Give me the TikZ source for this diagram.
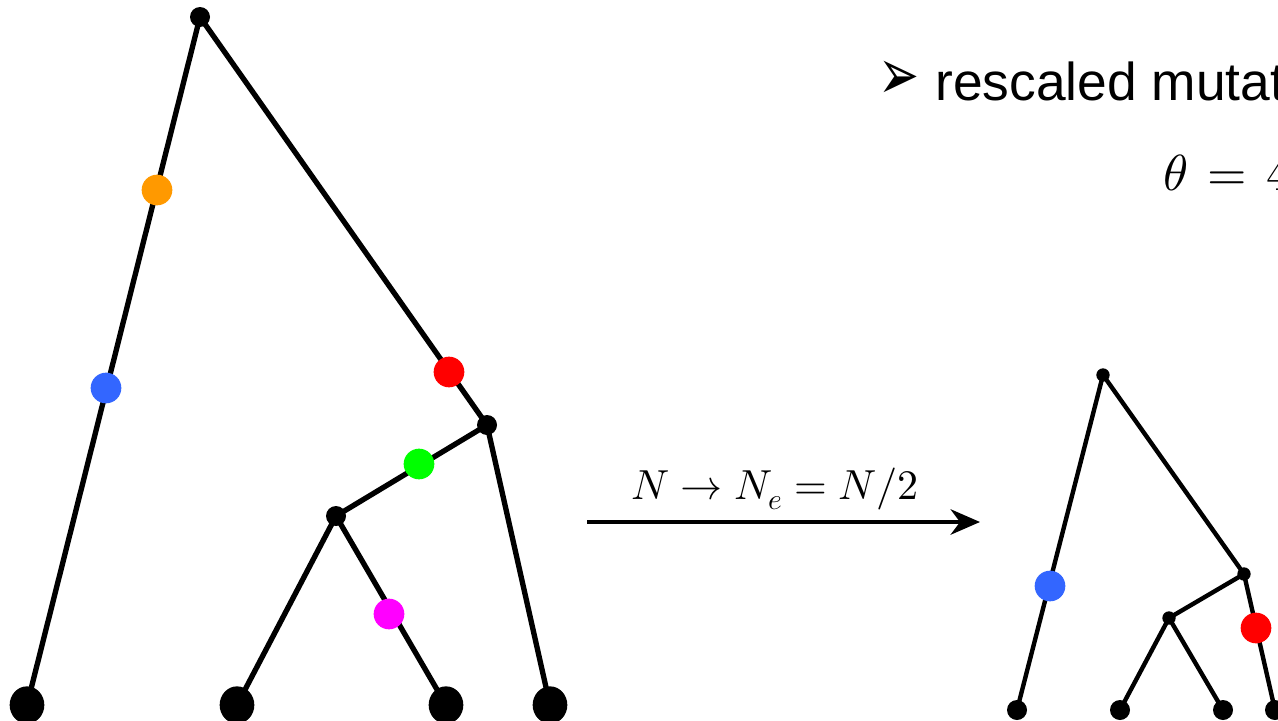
\documentclass[tikz,border=0pt]{standalone}
\usepackage{fontspec}
\usepackage{unicode-math}
\usepackage{graphicx}
\setmainfont{Liberation Sans}
\newfontfamily\dingfont{DejaVu Sans}
\usetikzlibrary{arrows.meta,shapes.geometric}
\definecolor{mOrange}{RGB}{255,153,0}
\definecolor{mBlue}{RGB}{51,102,255}
\definecolor{mRed}{RGB}{255,0,0}
\definecolor{mGreen}{RGB}{0,255,0}
\definecolor{mMagenta}{RGB}{255,0,255}
\begin{document}
\begin{tikzpicture}[x=0.75pt,y=-0.75pt,
  edgeL/.style={line width=4pt},
  edgeR/.style={line width=3.3pt},
  inner/.style={circle,fill=black,inner sep=0pt,minimum size=15pt},
  innerS/.style={circle,fill=black,inner sep=0pt,minimum size=10pt},
  leaf/.style={ellipse,fill=black,inner sep=0pt,minimum width=26pt,minimum height=28pt},
  leafS/.style={circle,fill=black,inner sep=0pt,minimum size=15pt},
  mut/.style={circle,fill=#1,inner sep=0pt,minimum size=23pt}]
\useasboundingbox (0,0) rectangle (1278,721);
\clip (0,0) rectangle (1278,721);
% left tree
\node[inner] (r) at (200,17) {};
\node[inner] (a) at (487,425) {};
\node[inner] (b) at (336,516) {};
\node[leaf] (l1) at (27,705) {};
\node[leaf] (l2) at (237,705) {};
\node[leaf] (l3) at (446,705) {};
\node[leaf] (l4) at (550,705) {};
\draw[edgeL] (r.center) -- (l1.center);
\draw[edgeL] (r.center) -- (a.center);
\draw[edgeL] (a.center) -- (l4.center);
\draw[edgeL] (a.center) -- (b.center);
\draw[edgeL] (b.center) -- (l2.center);
\draw[edgeL] (b.center) -- (l3.center);
\node[mut=mOrange] (mo) at (157,190) {};
\node[mut=mBlue] (mb) at (106,388) {};
\node[mut=mRed] (mr) at (449,372) {};
\node[mut=mGreen] (mg) at (419,464) {};
\node[mut=mMagenta] (mm) at (389,614) {};
% arrow
\coordinate (as) at (587,522);
\coordinate (ae) at (980,522);
\draw[line width=3.3pt,-{Stealth[length=22pt,width=19pt,inset=7pt]}] (as) -- (ae);
\node[anchor=base,inner sep=0pt,font=\fontsize{31.5}{34}\selectfont] (lab) at (775,499) {$N \to N_e = N/2$};
% right tree
\node[innerS] (r2) at (1103,375) {};
\node[innerS] (a2) at (1244,574) {};
\node[innerS] (b2) at (1169,618) {};
\node[leafS] (k1) at (1017,710) {};
\node[leafS] (k2) at (1120,710) {};
\node[leafS] (k3) at (1223,710) {};
\node[leafS] (k4) at (1275,710) {};
\draw[edgeR] (r2.center) -- (k1.center);
\draw[edgeR] (r2.center) -- (a2.center);
\draw[edgeR] (a2.center) -- (k4.center);
\draw[edgeR] (a2.center) -- (b2.center);
\draw[edgeR] (b2.center) -- (k2.center);
\draw[edgeR] (b2.center) -- (k3.center);
\node[mut=mBlue] (mb2) at (1050,586) {};
\node[mut=mRed] (mr2) at (1256,628) {};
% text
\node[inner sep=0pt,font=\dingfont\fontsize{40}{44}\selectfont] (bul) at (899,80) {\scalebox{0.92}[1.35]{➢}};
\node[anchor=base west,inner sep=0pt,font=\fontsize{40}{44}\selectfont] (t1) at (935,100) {rescaled mutat};
\node[anchor=base west,inner sep=0pt,font=\fontsize{38}{42}\selectfont] (t2) at (1163,190) {$\theta\mskip2mu = \mskip2mu 4$};
\end{tikzpicture}
\end{document}
